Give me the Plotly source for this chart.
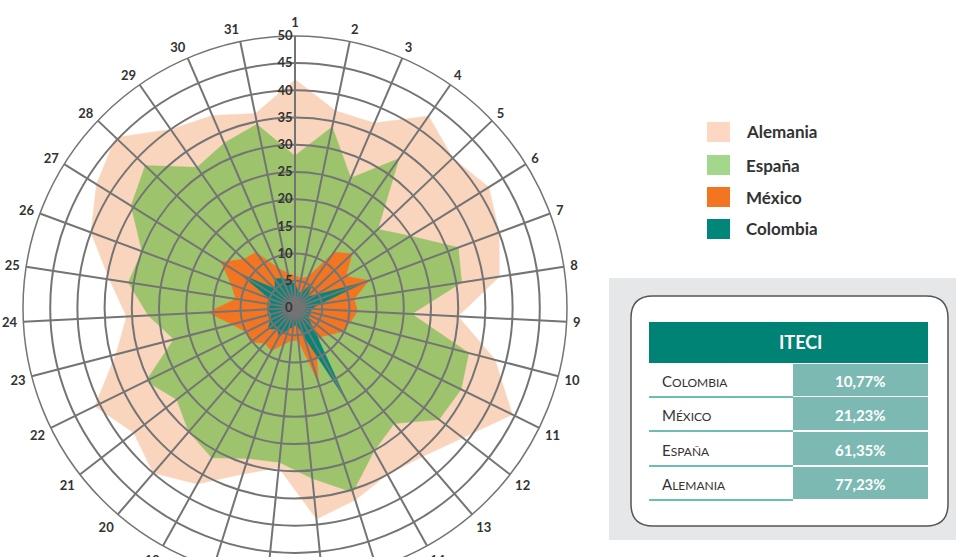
import plotly.graph_objects as go

# ---------------- data ----------------
categories = [str(i) for i in range(1, 32)]

alemania = [42, 37, 37, 43, 40, 42, 40, 38, 30, 38, 44.5, 39, 36, 35, 37, 39,
            29.5, 32, 37, 40, 37.5, 41, 34, 31, 34.5, 40, 43, 45.5, 40, 38.5, 36.5]
espana = [28, 34, 26, 33.5, 21, 25, 32, 31, 21.5, 33, 34, 33.5, 28, 30, 35.5, 31.5,
          28.5, 29, 31.5, 30, 27.5, 30.5, 23, 27, 31, 30, 35.5, 38, 31.5, 33, 34.5]
mexico = [6, 5.5, 6.3, 12.5, 14.5, 11, 14.5, 11, 11.5, 10.5, 9.8, 8, 7, 8, 14.2, 6,
          6, 7, 9, 8.5, 10.3, 10, 12, 16, 11, 12.5, 16, 13, 12.5, 8, 6.5]
colombia = [4.5, 3, 3, 6, 3, 4.5, 14, 4.5, 3, 3, 3, 3, 5.5, 19.7, 5.5, 3,
            3.5, 4, 6, 5, 6.3, 5, 4.5, 5, 4.5, 5, 12, 5, 6.5, 6, 5]

series_names = ["Alemania", "España", "México", "Colombia"]
table_labels = ["Colombia", "México", "España", "Alemania"]
table_values = ["10,77%", "21,23%", "61,35%", "77,23%"]
radial_ticks = list(range(0, 55, 5))

# ---------------- styling ----------------
W, H = 956, 600
def px(x):
    return x / W
def py(y):
    return 1 - y / H

fill_colors = ["#FAD5BD", "#9DC46D", "#F47521", "#00877A"]
legend_colors = ["#FCD8C2", "#A3D88C", "#F47521", "#00877A"]
GRID = "#747474"
TXT = "#333333"
FONT = "Lato"

fig = go.Figure()
for name, vals, c in zip(series_names, [alemania, espana, mexico, colombia], fill_colors):
    fig.add_trace(go.Scatterpolar(
        r=vals, theta=categories, fill="toself", fillcolor=c, mode="lines",
        line=dict(color=c, width=0.5), name=name, showlegend=False,
        hoverinfo="skip", subplot="polar"))

# invisible trace to carry the grid/label overlay subplot
fig.add_trace(go.Scatterpolar(
    r=[0] * len(categories), theta=categories, mode="lines",
    line=dict(width=0), opacity=0, showlegend=False, hoverinfo="skip",
    subplot="polar2"))

domain = dict(x=[px(23), px(567)], y=[py(580), py(36)])

fig.update_layout(
    width=W, height=H,
    margin=dict(l=0, r=0, t=0, b=0),
    paper_bgcolor="white",
    showlegend=False,
    polar=dict(
        domain=domain, bgcolor="white",
        angularaxis=dict(type="category", categoryarray=categories, rotation=90,
                         direction="clockwise", showgrid=False, showticklabels=False,
                         showline=False, ticks=""),
        radialaxis=dict(range=[0, 50], visible=False),
    ),
    polar2=dict(
        domain=domain, bgcolor="rgba(0,0,0,0)",
        angularaxis=dict(type="category", categoryarray=categories, rotation=90,
                         direction="clockwise", showgrid=True, gridcolor=GRID,
                         gridwidth=1.5, showline=True, linecolor=GRID, linewidth=1.5,
                         ticks="outside", ticklen=3, tickcolor="rgba(0,0,0,0)",
                         tickfont=dict(family=FONT, size=13, color=TXT, weight="bold")),
        radialaxis=dict(range=[0, 50], tickvals=radial_ticks, showgrid=True,
                        angle=90, gridcolor=GRID, gridwidth=1.5, showline=False,
                        ticks="", side="counterclockwise", tickangle=90,
                        tickfont=dict(family=FONT, size=13, color=TXT, weight="bold")),
    ),
)

shapes = []
annotations = []

# ---- legend ----
legend_rows = [132, 165, 197, 229]
for name, c, yc in zip(series_names, legend_colors, legend_rows):
    shapes.append(dict(type="rect", xref="paper", yref="paper",
                       x0=px(707), x1=px(730), y0=py(yc + 10), y1=py(yc - 10),
                       fillcolor=c, line=dict(width=0)))
    annotations.append(dict(xref="paper", yref="paper", x=px(744), y=py(yc),
                            xanchor="left", yanchor="middle", showarrow=False,
                            text="<b>%s</b>" % name,
                            font=dict(family=FONT, size=17, color=TXT)))

# ---- table panel ----
shapes.append(dict(type="rect", xref="paper", yref="paper", layer="below",
                   x0=px(609), x1=px(956), y0=py(540), y1=py(278),
                   fillcolor="#E6E7E8", line=dict(width=0)))
x0, x1, y0, y1, rr = 631, 948, 296, 526, 22
path = (f"M {px(x0+rr)},{py(y0)} L {px(x1-rr)},{py(y0)} "
        f"Q {px(x1)},{py(y0)} {px(x1)},{py(y0+rr)} L {px(x1)},{py(y1-rr)} "
        f"Q {px(x1)},{py(y1)} {px(x1-rr)},{py(y1)} L {px(x0+rr)},{py(y1)} "
        f"Q {px(x0)},{py(y1)} {px(x0)},{py(y1-rr)} L {px(x0)},{py(y0+rr)} "
        f"Q {px(x0)},{py(y0)} {px(x0+rr)},{py(y0)} Z")
shapes.append(dict(type="path", xref="paper", yref="paper", path=path,
                   fillcolor="white", line=dict(color="#555555", width=1.5)))
# header
shapes.append(dict(type="rect", xref="paper", yref="paper",
                   x0=px(649), x1=px(928), y0=py(363), y1=py(322),
                   fillcolor="#008275", line=dict(width=0)))
annotations.append(dict(xref="paper", yref="paper", x=px(800), y=py(342),
                        xanchor="center", yanchor="middle", showarrow=False,
                        text="<b>ITECI</b>",
                        font=dict(family=FONT, size=18, color="white")))
rows = [(364, 396), (397, 430), (432, 465), (467, 499)]
for lab, val, (ra, rb) in zip(table_labels, table_values, rows):
    shapes.append(dict(type="rect", xref="paper", yref="paper",
                       x0=px(793), x1=px(928), y0=py(rb), y1=py(ra),
                       fillcolor="#7DB9B3", line=dict(width=0)))
    shapes.append(dict(type="line", xref="paper", yref="paper",
                       x0=px(649), x1=px(793), y0=py(rb + 1), y1=py(rb + 1),
                       line=dict(color="#3BA79B", width=1.5)))
    yc = (ra + rb) / 2 + 1
    up = lab.upper()
    txt = "%s<span style='font-size:12px'>%s</span>" % (up[0], up[1:])
    annotations.append(dict(xref="paper", yref="paper", x=px(660), y=py(yc),
                            xanchor="left", yanchor="middle", showarrow=False,
                            text=txt, font=dict(family=FONT, size=15, color=TXT)))
    annotations.append(dict(xref="paper", yref="paper", x=px(860), y=py(yc),
                            xanchor="center", yanchor="middle", showarrow=False,
                            text="<b>%s</b>" % val,
                            font=dict(family=FONT, size=15, color="white")))

fig.update_layout(shapes=shapes, annotations=annotations)

fig.write_html("out.html",
               post_script="document.body.style.overflow='hidden';"
                           "document.documentElement.style.overflow='hidden';")
